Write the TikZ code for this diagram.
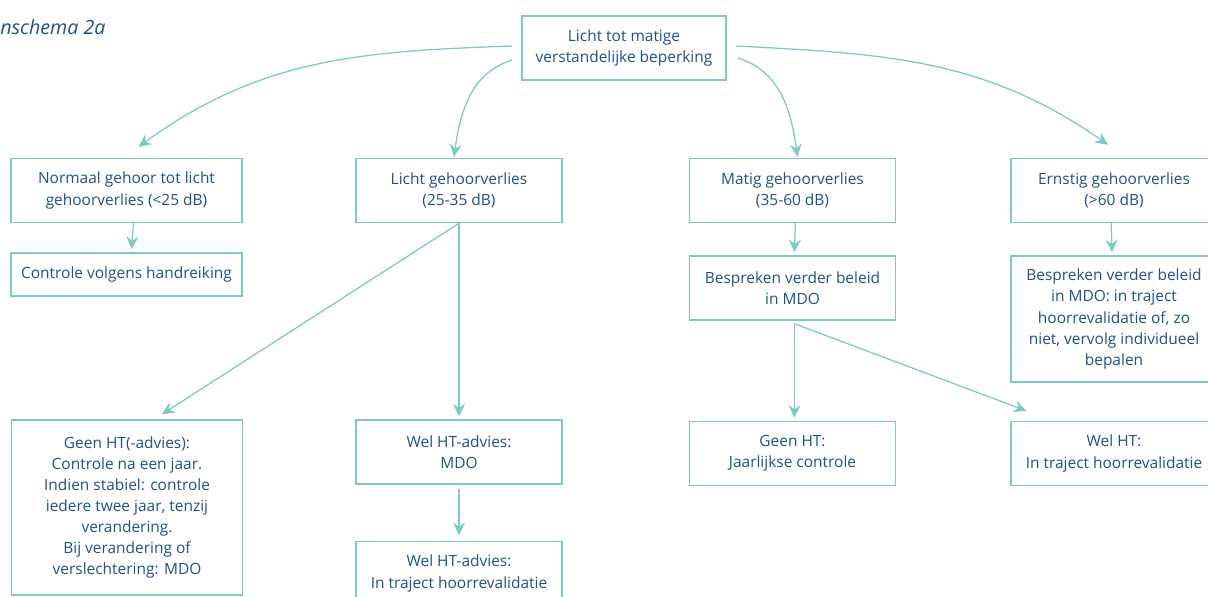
\documentclass[tikz,border=0pt]{standalone}
\usepackage{fontspec}
\setmainfont{Open Sans}
\usetikzlibrary{arrows.meta}
\definecolor{flowteal}{RGB}{124,202,196}
\definecolor{flowblue}{RGB}{30,80,140}
\tikzstyle{box} = [rectangle,
minimum width=5.15cm,
minimum height=1.6cm,
align=center,
draw=flowteal,
line width=1pt,
text=flowblue,
font=\fontsize{11}{15}\selectfont]
\tikzstyle{widebox} = [box, minimum width=5.78cm]
\tikzstyle{arrow} = [draw=flowteal, line width=0.9pt, -{Stealth[length=9pt,width=8.5pt,inset=3pt]}]

\begin{document}
\begin{tikzpicture}[x=0.025cm, y=0.025cm]
			\useasboundingbox (0,0) rectangle (1208,597);
			\clip (0,0) rectangle (1208,597);

			\node (title) [anchor=base west, text=flowblue, font=\fontsize{14}{16}\selectfont\itshape, inner sep=0pt] at (0,562) {nschema 2a};

			\node (top) [box, minimum width=5.1cm] at (624,549) {Licht tot matige\\verstandelijke beperking};
			\node (normaal) [widebox] at (126.5,406.5) {Normaal gehoor tot licht\\gehoorverlies (<25 dB)};
			\node (controle) [widebox, minimum height=1.08cm] at (126.5,322.5) {Controle volgens handreiking};
			\node (licht) [box] at (459,406.5) {Licht gehoorverlies\\(25-35 dB)};
			\node (matig) [box] at (792.5,406.5) {Matig gehoorverlies\\(35-60 dB)};
			\node (ernstig) [box] at (1114,406.5) {Ernstig gehoorverlies\\(>60 dB)};
			\node (bespreekmdo) [box] at (792.5,309) {Bespreken verder beleid\\in MDO};
			\node (bespreektraject) [box, minimum height=3.15cm] at (1114,278) {Bespreken verder beleid\\in MDO: in traject\\hoorrevalidatie of, zo\\niet, vervolg individueel\\bepalen};
			\node (geenadvies) [widebox, minimum height=4.375cm] at (127,89.5) {Geen HT(-advies):\\Controle na een jaar.\\Indien stabiel: controle\\iedere twee jaar, tenzij\\verandering.\\Bij verandering of\\verslechtering: MDO};
			\node (welmdo) [box] at (459,145) {Wel HT-advies:\\MDO};
			\node (weltraject) [box] at (459,23.5) {Wel HT-advies:\\In traject hoorrevalidatie};
			\node (geenht) [box] at (792.5,143.5) {Geen HT:\\Jaarlijkse controle};
			\node (welht) [box] at (1114,143.5) {Wel HT:\\In traject hoorrevalidatie};

			% bogen vanuit de bovenste doos
			\draw[arrow] ([shift={(-9,2)}]top.west) to[out=182, in=36] ([shift={(12,11)}]normaal.north);
			\draw[arrow] ([shift={(-9,-12)}]top.west) to[out=197, in=82] ([shift={(-5,1)}]licht.north);
			\draw[arrow] ([shift={(11,-10)}]top.east) to[out=-17, in=98] ([shift={(5,1)}]matig.north);
			\draw[arrow] ([shift={(9,2)}]top.east) to[out=-3, in=145] ([shift={(-6,13)}]ernstig.north);

			\draw[arrow] ([xshift=5]normaal.south) -- ([shift={(5,3)}]controle.north);
			\draw[arrow] (licht.south) -- ([shift={(35,5)}]geenadvies.north);
			\draw[arrow] (licht.south) -- ([yshift=2]welmdo.north);
			\draw[arrow] ([yshift=-3]welmdo.south) -- ([yshift=4]weltraject.north);
			\draw[arrow] ([xshift=2]matig.south) -- ([shift={(2,3)}]bespreekmdo.north);
			\draw[arrow] ([shift={(2,-3)}]bespreekmdo.south) -- ([shift={(2,3)}]geenht.north);
			\draw[arrow] ([shift={(2,-3)}]bespreekmdo.south) -- ([shift={(16,10)}]welht.north west);
			\draw[arrow] ([xshift=-2]ernstig.south) -- ([shift={(-2,3)}]bespreektraject.north);
		\end{tikzpicture}
\end{document}
